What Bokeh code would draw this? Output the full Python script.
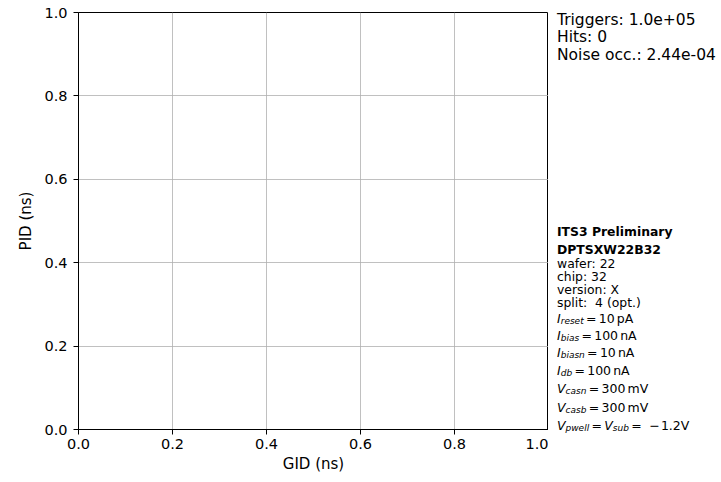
from bokeh.plotting import figure
from bokeh.layouts import row
from bokeh.models import Range1d, FixedTicker, Label, PrintfTickFormatter
from bokeh.embed import file_html
from bokeh.resources import INLINE

# ---- axes ----
x_ticks = [0.0, 0.2, 0.4, 0.6, 0.8, 1.0]
y_ticks = [0.0, 0.2, 0.4, 0.6, 0.8, 1.0]
x_title = "GID (ns)"
y_title = "PID (ns)"

# ---- run summary ----
n_triggers = 1.0e5
n_hits = 0
noise_occupancy = 2.44e-4

# ---- chip description ----
chip_header = ["ITS3 Preliminary", "DPTSXW22B32"]
wafer = 22
chip = 32
version = "X"
split = "4 (opt.)"

# ---- operating point: (symbol, subscript, number, unit) ----
bias_settings = [
    ("I", "reset", "10", "pA"),
    ("I", "bias", "100", "nA"),
    ("I", "biasn", "10", "nA"),
    ("I", "db", "100", "nA"),
    ("V", "casn", "300", "mV"),
    ("V", "casb", "300", "mV"),
]
pwell_sub = "pwell"
sub_sub = "sub"
back_bias = "1.2V"

# ---- page geometry (pixels) ----
FRAME_L, FRAME_T, FRAME_W, FRAME_H = 78, 12, 470, 417
CANVAS_W, CANVAS_H = 721, 482
SIDE_W = CANVAS_W - FRAME_L - FRAME_W
FONT = "DejaVu Sans"

# DejaVu Sans advance widths (font units, 2048 per em), used to chain text pieces
ADV = {"I": 604, "V": 1401, "A": 1401, "r": 842, "e": 1260, "s": 1067, "t": 803,
       "b": 1300, "i": 569, "a": 1255, "n": 1298, "d": 1300, "c": 1126, "p": 1300,
       "w": 1675, "l": 569, "u": 1298, "m": 1995, "=": 1716, " ": 651, ".": 651,
       "\u2212": 1716}
for dgt in "0123456789":
    ADV[dgt] = 1303


def text_width(s, size):
    return sum(ADV.get(ch, 1250) for ch in s) / 2048 * size


# ---- main (empty) axes ----
p = figure(
    frame_width=FRAME_W, frame_height=FRAME_H,
    min_border_left=FRAME_L, min_border_top=FRAME_T,
    min_border_right=0,
    min_border_bottom=CANVAS_H - FRAME_T - FRAME_H,
    x_range=Range1d(0, 1), y_range=Range1d(0, 1),
    output_backend="svg", toolbar_location=None,
    background_fill_color="white", border_fill_color="white",
)
p.frame_align = False

p.outline_line_color = "black"
p.outline_line_width = 1
p.outline_line_alpha = 1

for ax, ticks in ((p.xaxis, x_ticks), (p.yaxis, y_ticks)):
    ax.ticker = FixedTicker(ticks=ticks)
    ax.formatter = PrintfTickFormatter(format="%.1f")
    ax.axis_line_color = "black"
    ax.axis_line_width = 1
    ax.major_tick_line_color = "black"
    ax.major_tick_in = 0
    ax.major_tick_out = 5
    ax.minor_tick_line_color = None
    ax.major_label_text_font = FONT
    ax.major_label_text_font_size = "14.5px"
    ax.major_label_text_color = "black"
    ax.axis_label_text_font = FONT
    ax.axis_label_text_font_size = "15px"
    ax.axis_label_text_font_style = "normal"
    ax.axis_label_text_color = "black"

p.xaxis.axis_label = x_title
p.yaxis.axis_label = y_title
p.xaxis.major_label_standoff = 4
p.yaxis.major_label_standoff = 6
p.xaxis.axis_label_standoff = 3
p.yaxis.axis_label_standoff = 6

p.grid.grid_line_color = "#b0b0b0"
p.grid.grid_line_width = 0.8
p.xgrid.ticker = FixedTicker(ticks=x_ticks)
p.ygrid.ticker = FixedTicker(ticks=y_ticks)

# ---- side panel for the annotations; its ranges run in page pixels ----
side = figure(
    width=SIDE_W, height=CANVAS_H, min_border=0,
    x_range=Range1d(FRAME_L + FRAME_W, CANVAS_W), y_range=Range1d(CANVAS_H, 0),
    x_axis_location=None, y_axis_location=None,
    output_backend="svg", toolbar_location=None,
    background_fill_color="white", border_fill_color="white",
)
side.frame_align = False
side.outline_line_color = None
side.grid.visible = False


def put(text, px, py, size, style="normal"):
    side.add_layout(Label(
        x=px, y=py, text=text,
        text_font=FONT, text_font_size=f"{size}px", text_font_style=style,
        text_color="black", text_align="left", text_baseline="alphabetic",
    ))


# ---- run summary, top right ----
TEXT_X = 556.5
stats = [f"Triggers: {n_triggers:.1e}", f"Hits: {n_hits}", f"Noise occ.: {noise_occupancy:.2e}"]
for i, line in enumerate(stats):
    put(line, TEXT_X, 19 + 17.5 * i, 15.5)

# ---- chip description ----
put(chip_header[0], TEXT_X, 230.5, 12.4, "bold")
put(chip_header[1], TEXT_X, 248.5, 12.4, "bold")
info = [f"wafer: {wafer}", f"chip: {chip}", f"version: {version}", f"split:\u00a0 {split}"]
for i, line in enumerate(info):
    put(line, TEXT_X, 262.5 + 13.3 * i, 12.4)

# ---- operating point, typeset as symbol + subscript ----
S = 12.5       # main size
SS = 9.0       # subscript size
SUB_DROP = 2.5
REL_GAP = 2.3  # space either side of "="
THIN = 0.17 * S


def symbol(sym, sub, x, base):
    put(sym, x, base, S, "italic")
    x += text_width(sym, S)
    put(sub, x, base + SUB_DROP, SS, "italic")
    return x + text_width(sub, SS) + REL_GAP


baselines = [317.5, 335, 352, 369.5, 388, 406.5]
for (sym, sub, num, unit), base in zip(bias_settings, baselines):
    x = symbol(sym, sub, TEXT_X, base)
    put("=", x, base, S)
    x += text_width("=", S) + REL_GAP
    put(num, x, base, S)
    x += text_width(num, S) + THIN
    put(unit, x, base, S)

base = 424.5
x = symbol("V", pwell_sub, TEXT_X, base)
put("=", x, base, S)
x += text_width("=", S) + REL_GAP
x = symbol("V", sub_sub, x, base)
put("=", x, base, S)
x += text_width("=", S) + 0.6 * S
put("\u2212", x, base, S)
x += text_width("\u2212", S) + 0.1 * S
put(back_bias, x, base, S)

layout = row(p, side, spacing=0)
open("out.html", "w").write(file_html(layout, INLINE))
